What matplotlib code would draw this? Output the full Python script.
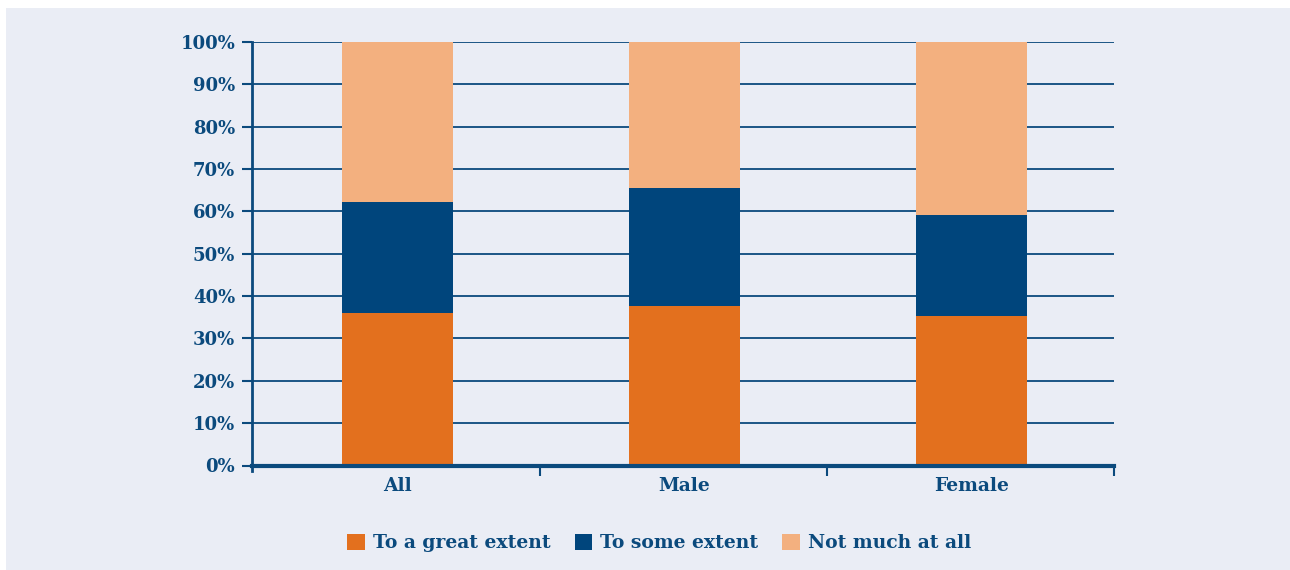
import matplotlib.pyplot as plt
from matplotlib.patches import Rectangle
from matplotlib.ticker import PercentFormatter

categories = ["All", "Male", "Female"]
great = [36.1, 37.6, 35.4]
some = [26.1, 27.9, 23.7]
not_much = [37.8, 34.5, 40.9]
labels = ["To a great extent", "To some extent", "Not much at all"]
colors = ["#E3701E", "#00457C", "#F3B07F"]

NAVY = "#0B4A7D"
BG = "#EAEDF5"
plt.rcParams["font.family"] = ["DejaVu Serif"]
plt.rcParams["font.weight"] = "bold"

fig = plt.figure(figsize=(12.9, 5.7), dpi=100)
fig.patch.set_facecolor("white")
fig.patches.append(Rectangle((6 / 1290, 0), 1 - 6 / 1290, 562 / 570,
                             transform=fig.transFigure, facecolor=BG,
                             edgecolor="none", zorder=-10))

ax = fig.add_axes([252 / 1290, 1 - 465.5 / 570, 862 / 1290, 423.5 / 570])
ax.set_facecolor(BG)

x = range(len(categories))
w = 0.387
bottom2 = [a + b for a, b in zip(great, some)]
ax.bar(x, great, w, color=colors[0], label=labels[0], zorder=3)
ax.bar(x, some, w, bottom=great, color=colors[1], label=labels[1], zorder=3)
ax.bar(x, not_much, w, bottom=bottom2, color=colors[2], label=labels[2], zorder=3)

ax.set_xlim(-0.507, 2.496)
ax.set_ylim(0, 100)
ax.set_yticks(range(0, 101, 10))
ax.yaxis.set_major_formatter(PercentFormatter(decimals=0))
ax.set_xticks(list(x))
ax.set_xticklabels(categories)
ax.set_xticks([0.496, 1.496, 2.496], minor=True)
ax.tick_params(axis="x", which="major", length=0, pad=8, labelsize=13.5, colors=NAVY)
ax.tick_params(axis="x", which="minor", length=7, width=1.5, color=NAVY, direction="out")
ax.tick_params(axis="y", length=7, width=1.5, color=NAVY, labelsize=13,
               labelcolor=NAVY, pad=5)

ax.grid(axis="y", color=NAVY, linewidth=1.3, zorder=1)
for s in ["top", "right"]:
    ax.spines[s].set_visible(False)
ax.spines["left"].set_color(NAVY)
ax.spines["left"].set_linewidth(2)
ax.spines["left"].set_bounds(-1.3, 100)
ax.spines["bottom"].set_color(NAVY)
ax.spines["bottom"].set_linewidth(3)
ax.spines["bottom"].set_zorder(4)

leg = fig.legend(loc="center", bbox_to_anchor=(0.511, 1 - 543 / 570), ncol=3,
                 frameon=False, fontsize=13.5, handlelength=0.95, handleheight=0.95,
                 handletextpad=0.4, columnspacing=1.3)
for t in leg.get_texts():
    t.set_color(NAVY)

fig.savefig("out.png", dpi=100)
